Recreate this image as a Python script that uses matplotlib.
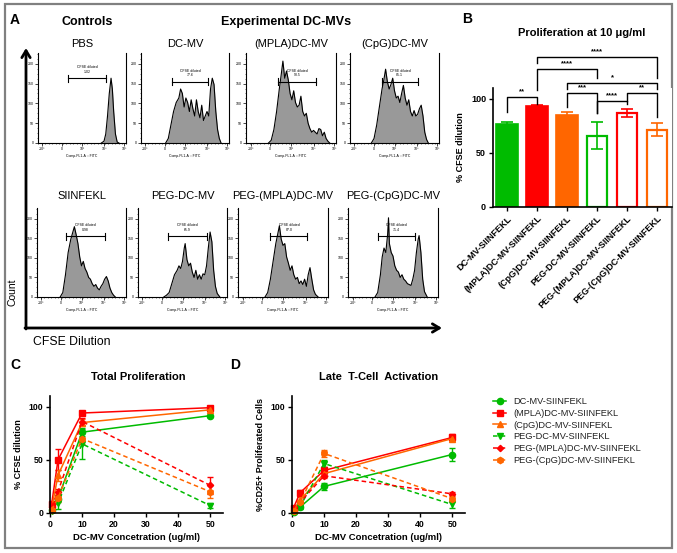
import matplotlib
matplotlib.use('Agg')
import matplotlib.pyplot as plt
from matplotlib.patches import Rectangle
from matplotlib.ticker import MultipleLocator

plt.rcParams['font.family'] = ['Liberation Sans', 'DejaVu Sans']

W, H = 677, 553

# ---------------- panel A: CFSE histograms (x, height as fraction of plot box)
hist_titles = ['PBS', 'DC-MV', '(MPLA)DC-MV', '(CpG)DC-MV',
               'SIINFEKL', 'PEG-DC-MV', 'PEG-(MPLA)DC-MV', 'PEG-(CpG)DC-MV']

pbs_x = [0.72, 0.75, 0.77, 0.79, 0.81, 0.83, 0.845, 0.86, 0.88, 0.90, 0.92]
pbs_h = [0, 0.02, 0.1, 0.3, 0.55, 0.72, 0.6, 0.35, 0.1, 0.01, 0]

dcmv_x = [0.28, 0.31, 0.34, 0.37, 0.40, 0.43, 0.45, 0.47, 0.49, 0.51, 0.53, 0.55, 0.57, 0.59, 0.61,
          0.63, 0.65, 0.67, 0.69, 0.71, 0.73, 0.75, 0.77, 0.79, 0.81, 0.83, 0.85, 0.87, 0.89, 0.91]
dcmv_h = [0, 0.05, 0.2, 0.35, 0.45, 0.5, 0.6, 0.55, 0.4, 0.5, 0.45, 0.35, 0.48, 0.38, 0.3,
          0.48, 0.35, 0.28, 0.42, 0.25, 0.3, 0.35, 0.3, 0.6, 0.72, 0.65, 0.35, 0.15, 0.05, 0]

mpla_x = [0.25, 0.28, 0.31, 0.34, 0.37, 0.39, 0.41, 0.43, 0.45, 0.47, 0.49, 0.51, 0.53, 0.55, 0.57, 0.59, 0.61,
          0.63, 0.65, 0.67, 0.69, 0.71, 0.73, 0.75, 0.77, 0.79, 0.81, 0.83, 0.85, 0.87, 0.89, 0.91, 0.93]
mpla_h = [0, 0.03, 0.15, 0.35, 0.6, 0.75, 0.91, 0.72, 0.8, 0.7, 0.55, 0.48, 0.58, 0.45, 0.4, 0.42, 0.52,
          0.35, 0.3, 0.33, 0.22, 0.16, 0.12, 0.14, 0.12, 0.1, 0.16, 0.15, 0.08, 0.12, 0.05, 0.02, 0]

cpg_x = [0.24, 0.27, 0.30, 0.33, 0.36, 0.38, 0.40, 0.42, 0.44, 0.46, 0.48, 0.50, 0.52, 0.54, 0.56, 0.58,
         0.60, 0.62, 0.64, 0.66, 0.68, 0.70, 0.72, 0.74, 0.76, 0.78, 0.80, 0.82, 0.84, 0.86, 0.88]
cpg_h = [0, 0.05, 0.2, 0.4, 0.6, 0.7, 0.82, 0.68, 0.6, 0.65, 0.72, 0.58, 0.5, 0.52, 0.45, 0.55,
         0.64, 0.5, 0.42, 0.48, 0.35, 0.3, 0.36, 0.3, 0.32, 0.38, 0.42, 0.3, 0.12, 0.04, 0]

siin_x = [0.26, 0.29, 0.32, 0.35, 0.38, 0.40, 0.42, 0.44, 0.46, 0.48, 0.50, 0.52, 0.54, 0.56, 0.58,
          0.60, 0.62, 0.64, 0.66, 0.68, 0.70, 0.72, 0.74, 0.76, 0.78, 0.80, 0.82, 0.84, 0.86, 0.88]
siin_h = [0, 0.05, 0.25, 0.5, 0.65, 0.72, 0.79, 0.7, 0.6, 0.45, 0.35, 0.4, 0.32, 0.28, 0.22,
          0.2, 0.15, 0.12, 0.14, 0.1, 0.08, 0.12, 0.15, 0.2, 0.23, 0.18, 0.1, 0.05, 0.02, 0]

pegdc_x = [0.29, 0.32, 0.35, 0.38, 0.41, 0.44, 0.46, 0.48, 0.50, 0.52, 0.53, 0.55, 0.57, 0.59, 0.61,
           0.63, 0.65, 0.67, 0.69, 0.71, 0.73, 0.75, 0.77, 0.79, 0.81, 0.83, 0.85, 0.87, 0.89, 0.92]
pegdc_h = [0, 0.02, 0.05, 0.15, 0.25, 0.3, 0.35, 0.32, 0.4, 0.55, 0.6, 0.42, 0.35, 0.38, 0.28,
           0.22, 0.3, 0.2, 0.25, 0.2, 0.26, 0.25, 0.35, 0.55, 0.73, 0.62, 0.3, 0.12, 0.04, 0]

pegmpla_x = [0.30, 0.33, 0.36, 0.39, 0.42, 0.44, 0.46, 0.48, 0.50, 0.52, 0.54, 0.56, 0.58, 0.60,
             0.62, 0.64, 0.66, 0.68, 0.70, 0.72, 0.74, 0.76, 0.78, 0.80, 0.82, 0.84, 0.86, 0.89]
pegmpla_h = [0, 0.05, 0.2, 0.4, 0.6, 0.7, 0.8, 0.65, 0.58, 0.6, 0.45, 0.38, 0.3, 0.35,
             0.25, 0.2, 0.22, 0.15, 0.18, 0.14, 0.2, 0.12, 0.25, 0.33, 0.2, 0.08, 0.03, 0]

pegcpg_x = [0.30, 0.33, 0.36, 0.38, 0.40, 0.42, 0.44, 0.45, 0.46, 0.48, 0.50, 0.52, 0.54, 0.56, 0.58,
            0.60, 0.62, 0.64, 0.66, 0.68, 0.70, 0.72, 0.74, 0.76, 0.78, 0.79, 0.81, 0.83, 0.85, 0.88]
pegcpg_h = [0, 0.05, 0.25, 0.45, 0.55, 0.5, 0.7, 0.89, 0.6, 0.5, 0.46, 0.35, 0.3, 0.28, 0.22,
            0.25, 0.2, 0.18, 0.15, 0.14, 0.13, 0.2, 0.3, 0.5, 0.65, 0.69, 0.5, 0.2, 0.06, 0]

hist_x = [pbs_x, dcmv_x, mpla_x, cpg_x, siin_x, pegdc_x, pegmpla_x, pegcpg_x]
hist_h = [pbs_h, dcmv_h, mpla_h, cpg_h, siin_h, pegdc_h, pegmpla_h, pegcpg_h]

gate_lo = [0.34, 0.35, 0.36, 0.36, 0.33, 0.34, 0.36, 0.33]
gate_hi = [0.77, 0.76, 0.78, 0.76, 0.76, 0.77, 0.77, 0.74]
gate_y = [0.72, 0.68, 0.68, 0.68, 0.68, 0.68, 0.68, 0.68]
gate_pct = ['1.02', '77.6', '93.5', '85.1', '0.98', '65.9', '87.0', '71.4']

hist_xticks = [0.05, 0.27, 0.5, 0.75, 0.98]
hist_xticklabels = ['-10³', '0', '10³', '10⁴', '10⁵']
hist_yticks = [0, 0.22, 0.44, 0.66, 0.88]
hist_yticklabels = ['0', '50', '100', '150', '200']

# ---------------- panel B
b_labels = ['DC-MV-SIINFEKL', '(MPLA)DC-MV-SIINFEKL', '(CpG)DC-MV-SIINFEKL',
            'PEG-DC-MV-SIINFEKL', 'PEG-(MPLA)DC-MV-SIINFEKL', 'PEG-(CpG)DC-MV-SIINFEKL']
b_mean = [77, 93.5, 85, 66, 87, 71.5]
b_err = [2, 0.5, 2.5, 12.5, 4, 6]
b_filled = [True, True, True, False, False, False]
# (left bar, right bar, bracket height, left leg end, right leg end, stars)
b_sig = [(0, 1, 102, 88, 95, '**'), (2, 3, 105.5, 92.5, 87, '***'),
         (3, 4, 98, 87, 95.5, '****'), (4, 5, 105.5, 98, 83, '**'),
         (2, 5, 115, 109, 109, '*'), (1, 3, 128, 108, 119.5, '****'),
         (1, 5, 139, 133, 119.5, '****')]

# ---------------- panels C and D
conc = [0.5, 2.5, 10, 50]
series = ['DC-MV-SIINFEKL', '(MPLA)DC-MV-SIINFEKL', '(CpG)DC-MV-SIINFEKL',
          'PEG-DC-MV-SIINFEKL', 'PEG-(MPLA)DC-MV-SIINFEKL', 'PEG-(CpG)DC-MV-SIINFEKL']
c_mean = [[2.5, 13.5, 76, 91.5], [8, 50, 94, 99], [4, 35.5, 85, 97],
          [2, 9, 65, 7], [6, 20, 86, 26], [3, 14, 70, 20]]
c_err = [[1, 3, 3.5, 1], [3, 10, 1.5, 1], [2, 5, 3, 1],
         [1, 5, 14, 2.5], [2, 3, 3, 8], [1, 4, 5, 6]]
d_mean = [[1, 5.5, 25, 55], [5, 19, 40, 71], [2.5, 12, 37, 70],
          [1, 6, 46.5, 8], [2.5, 10, 35, 18], [2, 10, 56, 13.5]]
d_err = [[1, 1, 3, 6], [1, 3, 3, 3], [1, 3, 3, 2],
         [1, 2, 3, 3], [1, 2, 2, 2], [1, 2, 3, 3]]

green, red, orange = '#00BB00', '#FF0000', '#FF6600'
s_colors = [green, red, orange, green, red, orange]
s_markers = ['o', 's', '^', 'v', 'D', 'h']
s_msize = [4.5, 4.5, 4.5, 4.5, 3.2, 4.5]
s_dashed = [False, False, False, True, True, True]


def rect(l, t, r, b):
    return [l / W, 1 - b / H, (r - l) / W, (b - t) / H]


fig = plt.figure(figsize=(W / 100, H / 100), dpi=100)

# overlay for frame, arrows and panel texts (pixel coordinates)
ov = fig.add_axes([0, 0, 1, 1], zorder=-1)
ov.set_xlim(0, W)
ov.set_ylim(H, 0)
ov.axis('off')
ov.add_patch(Rectangle((5, 4), 667, 544, fill=False, ec='#808080', lw=1.6))
arrow = dict(arrowstyle='->,head_length=0.5,head_width=0.3', lw=2, color='k', shrinkA=0, shrinkB=0)
ov.annotate('', xy=(26, 48), xytext=(26, 329), arrowprops=arrow)
ov.annotate('', xy=(442, 328), xytext=(25, 328), arrowprops=arrow)
ov.text(12, 292, 'Count', rotation=90, fontsize=7.5, ha='center', va='center')
ov.text(33, 342, 'CFSE Dilution', fontsize=8.8, ha='left', va='center')

ov.text(10, 20, 'A', fontsize=10, fontweight='bold', va='center')
ov.text(462, 19, 'B', fontsize=10, fontweight='bold', va='center')
ov.text(10, 365, 'C', fontsize=10, fontweight='bold', va='center')
ov.text(230, 365, 'D', fontsize=10, fontweight='bold', va='center')
ov.text(87, 22, 'Controls', fontsize=9, fontweight='bold', ha='center', va='center')
ov.text(286, 22, 'Experimental DC-MVs', fontsize=9, fontweight='bold', ha='center', va='center')
ov.text(582, 33, 'Proliferation at 10 μg/ml', fontsize=8, fontweight='bold', ha='center', va='center')
ov.text(138, 377, 'Total Proliferation', fontsize=8, fontweight='bold', ha='center', va='center')
ov.text(379, 377, 'Late  T-Cell  Activation', fontsize=8, fontweight='bold', ha='center', va='center')

# ---------------- panel A
hist_boxes = [(38, 53, 126, 143), (141, 53, 229, 143), (246, 53, 336, 143), (350, 53, 439, 143),
              (37, 208, 126, 297), (138, 208, 227, 297), (238, 208, 328, 297), (348, 208, 438, 297)]
for k in range(8):
    l, t, r, b = hist_boxes[k]
    ax = fig.add_axes(rect(l, t, r, b))
    ax.fill_between(hist_x[k], hist_h[k], color='#999999', lw=0)
    ax.plot(hist_x[k], hist_h[k], color='k', lw=0.8)
    ax.set_xlim(0, 1)
    ax.set_ylim(0, 1)
    ax.spines['top'].set_visible(False)
    for s in ['left', 'bottom', 'right']:
        ax.spines[s].set_linewidth(0.8)
    ax.set_xticks(hist_xticks)
    ax.set_xticklabels(hist_xticklabels, fontsize=2.5)
    ax.set_yticks(hist_yticks)
    ax.set_yticklabels(hist_yticklabels, fontsize=2.5)
    ax.xaxis.set_minor_locator(MultipleLocator(0.04))
    ax.yaxis.set_minor_locator(MultipleLocator(0.055))
    ax.tick_params(which='major', length=2, width=0.5, pad=1)
    ax.tick_params(which='minor', length=1, width=0.4)
    ax.set_xlabel('Comp-FL1-A :: FITC', fontsize=2.5, labelpad=2)
    ax.plot([gate_lo[k], gate_hi[k]], [gate_y[k], gate_y[k]], color='k', lw=0.8)
    ax.plot([gate_lo[k], gate_lo[k]], [gate_y[k] - 0.04, gate_y[k] + 0.04], color='k', lw=0.8)
    ax.plot([gate_hi[k], gate_hi[k]], [gate_y[k] - 0.04, gate_y[k] + 0.04], color='k', lw=0.8)
    ax.text((gate_lo[k] + gate_hi[k]) / 2, gate_y[k] + 0.05, 'CFSE diluted\n' + gate_pct[k],
            fontsize=2.5, ha='center', va='bottom')
    ty = 44 if k < 4 else 196
    ov.text((l + r) / 2, ty, hist_titles[k], fontsize=8, ha='center', va='center')

# ---------------- panel B
axb = fig.add_axes(rect(493, 88, 672, 207))
xs = range(len(b_labels))
for i in xs:
    c = s_colors[i]
    if b_filled[i]:
        axb.bar(i, b_mean[i], width=0.73, color=c, edgecolor=c, lw=1.2)
    else:
        axb.bar(i, b_mean[i], width=0.66, facecolor='white', edgecolor=c, lw=1.6)
    axb.errorbar(i, b_mean[i], yerr=b_err[i], color=c, capsize=4, lw=1.2, capthick=1.2)
for i, j, yb, yl, yr, star in b_sig:
    axb.plot([i, i, j, j], [yl, yb, yb, yr], color='k', lw=1, clip_on=False)
    axb.text((i + j) / 2, yb + 1.2, star, fontsize=5.5, fontweight='bold', ha='center', va='bottom')
axb.set_xlim(-0.47, 5.5)
axb.set_ylim(0, 110)
axb.set_yticks([0, 50, 100])
axb.set_xticks(list(xs))
axb.set_xticklabels(b_labels, rotation=45, ha='right', rotation_mode='anchor',
                    fontsize=6.5, fontweight='bold')
for lab in axb.get_yticklabels():
    lab.set_fontweight('bold')
axb.tick_params(labelsize=6.5, length=3, width=1, pad=2)
axb.spines['top'].set_visible(False)
axb.spines['right'].set_visible(False)
axb.spines['left'].set_linewidth(1.2)
axb.spines['bottom'].set_linewidth(1.2)
axb.set_ylabel('% CFSE dilution', fontsize=6.5, fontweight='bold', labelpad=4)


# ---------------- panels C and D
def line_panel(ax, means, errs, ylabel):
    handles = []
    for k in range(6):
        ls = (0, (3, 2)) if s_dashed[k] else '-'
        cont = ax.errorbar(conc, means[k], yerr=errs[k], color=s_colors[k], marker=s_markers[k],
                           ms=s_msize[k], lw=1.1, ls=ls, capsize=2.5, elinewidth=1, clip_on=False)
        handles.append(cont[0])
    ax.set_xlim(0, 54)
    ax.set_ylim(0, 110)
    ax.set_xticks([0, 10, 20, 30, 40, 50])
    ax.set_yticks([0, 50, 100])
    for lab in ax.get_xticklabels() + ax.get_yticklabels():
        lab.set_fontweight('bold')
    ax.tick_params(labelsize=6.3, length=3, width=1, pad=2)
    ax.spines['top'].set_visible(False)
    ax.spines['right'].set_visible(False)
    ax.spines['left'].set_linewidth(1.2)
    ax.spines['bottom'].set_linewidth(1.2)
    ax.set_xlabel('DC-MV Concetration (ug/ml)', fontsize=6.8, fontweight='bold', labelpad=3)
    ax.set_ylabel(ylabel, fontsize=6.5, fontweight='bold', labelpad=4)
    return handles


axc = fig.add_axes(rect(50, 396, 223, 513))
line_panel(axc, c_mean, c_err, '% CFSE dilution')
axd = fig.add_axes(rect(292, 396, 465, 513))
handles = line_panel(axd, d_mean, d_err, '%CD25+ Proliferated Cells')

leg = fig.legend(handles, series, loc='upper left', bbox_to_anchor=(493 / W, 1 - 397 / H),
                 frameon=False, borderpad=0, borderaxespad=0, handlelength=1.4,
                 handletextpad=0.75, labelspacing=0.3, fontsize=6.7)
for t in leg.get_texts():
    t.set_color('#222222')

fig.savefig('out.png', dpi=100)
